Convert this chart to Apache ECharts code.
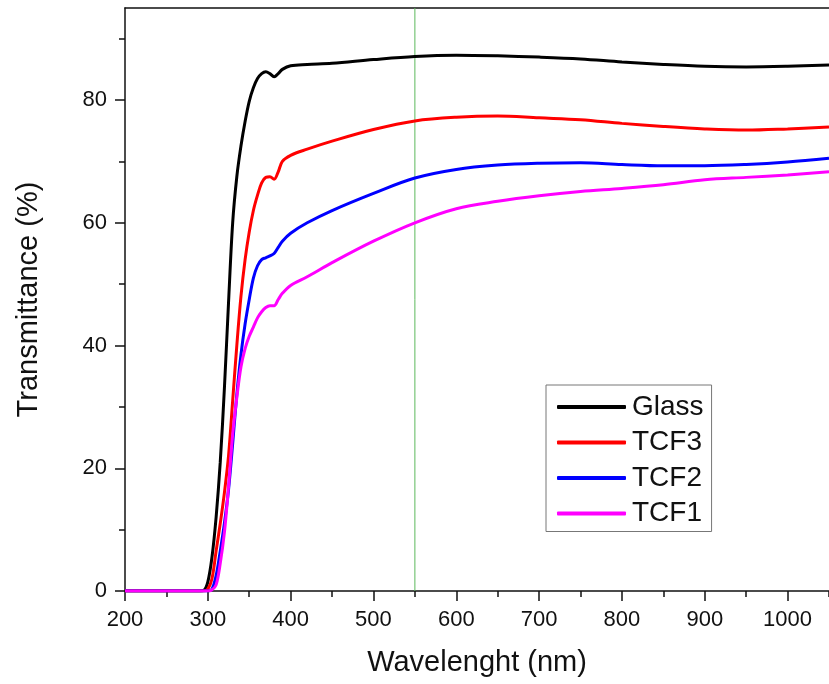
<!DOCTYPE html>
<html>
<head>
    <meta charset="UTF-8">
    <title>Transmittance</title>
    <script src="https://cdn.jsdelivr.net/npm/echarts@6/dist/echarts.min.js"></script>
    <style>html,body{margin:0;padding:0;background:#fff}#chart{width:829px;height:684px}</style>
</head>
<body>
<div id="chart"></div>
<script>
    // wavelengths (nm)
    var wavelength = [200, 290, 295, 300, 305, 310, 315, 320, 325, 330, 335, 340, 345, 350, 355, 360, 365, 370, 375, 380, 385, 390, 400, 420, 450, 500, 550, 600, 650, 700, 750, 800, 850, 900, 950, 1000, 1050];
    var glass = [0, 0, 0.1, 1.5, 5.5, 12, 21, 33, 47, 60, 67.5, 72.5, 76.5, 79.8, 82, 83.5, 84.3, 84.6, 84.3, 83.8, 84.3, 85, 85.6, 85.8, 86, 86.6, 87.1, 87.3, 87.2, 87, 86.7, 86.2, 85.8, 85.5, 85.4, 85.5, 85.7];
    var tcf3 = [0, 0, 0, 0.3, 2, 6.5, 11, 16, 22, 31, 40, 48, 54, 58.5, 62, 64.5, 66.5, 67.4, 67.5, 67.1, 68.3, 70, 71, 72, 73.3, 75.2, 76.6, 77.2, 77.4, 77.1, 76.8, 76.2, 75.7, 75.3, 75.1, 75.3, 75.6];
    var tcf2 = [0, 0, 0, 0, 0.3, 2.5, 6.5, 11, 16.5, 24, 32, 38.5, 43.5, 47.5, 51, 53, 54, 54.3, 54.6, 55, 56, 57, 58.3, 60, 62, 64.8, 67.3, 68.7, 69.4, 69.7, 69.8, 69.5, 69.3, 69.3, 69.5, 69.9, 70.5];
    var tcf1 = [0, 0, 0, 0, 0.2, 1, 4.5, 9.5, 17, 25.5, 31.5, 36.5, 39.5, 41.5, 43, 44.5, 45.5, 46.2, 46.5, 46.5, 47.5, 48.5, 49.8, 51.2, 53.5, 57, 60, 62.3, 63.5, 64.4, 65.1, 65.6, 66.2, 67, 67.4, 67.8, 68.3];

    // vertical marker at 550 nm
    var markerWavelength = 550;

    var xMajor = [200, 300, 400, 500, 600, 700, 800, 900, 1000];
    var xMinor = [250, 350, 450, 550, 650, 750, 850, 950, 1050];
    var yMajor = [0, 20, 40, 60, 80];
    var yMinor = [10, 30, 50, 70, 90];

    var xMin = 200, xMax = 1050, yMin = 0, yMax = 95;

    function pairs(ys) {
        var out = [];
        for (var i = 0; i < wavelength.length; i++) out.push([wavelength[i], ys[i]]);
        return out;
    }

    var font = 'Liberation Sans, Arial, sans-serif';
    var chart = echarts.init(document.getElementById('chart'));

    function line(name, color, ys) {
        return {
            name: name,
            type: 'line',
            xAxisIndex: 0,
            yAxisIndex: 0,
            data: pairs(ys),
            symbol: 'none',
            smooth: 0.35,
            lineStyle: {color: color, width: 3},
            itemStyle: {color: color},
            z: 3
        };
    }

    var series = [
        {
            name: 'marker',
            type: 'line',
            data: [[markerWavelength, yMin], [markerWavelength, yMax]],
            symbol: 'none',
            silent: true,
            lineStyle: {color: '#5cb85c', width: 1},
            z: 1
        },
        line('Glass', '#000000', glass),
        line('TCF3', '#ff0000', tcf3),
        line('TCF2', '#0000ff', tcf2),
        line('TCF1', '#ff00ff', tcf1)
    ];

    var option = {
        animation: false,
        backgroundColor: '#fff',
        grid: {left: 125, top: 8, right: 0, bottom: 93},
        legend: {
            orient: 'vertical',
            left: 546,
            top: 385,
            padding: [8, 8, 4, 11],
            borderColor: '#777',
            borderWidth: 1,
            itemWidth: 69,
            itemHeight: 4,
            itemGap: 7.5,
            icon: 'roundRect',
            textStyle: {fontFamily: font, fontSize: 28, color: '#111', lineHeight: 28, padding: [0, 0, 0, 1]},
            data: ['Glass', 'TCF3', 'TCF2', 'TCF1']
        },
        xAxis: [{
            type: 'value',
            min: xMin,
            max: xMax,
            name: 'Wavelenght (nm)',
            nameLocation: 'middle',
            nameGap: 57,
            nameTextStyle: {fontFamily: font, fontSize: 29, color: '#111'},
            axisLine: {lineStyle: {color: '#111', width: 1.5}},
            axisTick: {customValues: xMajor, length: 10, lineStyle: {color: '#111', width: 1.5}},
            axisLabel: {customValues: xMajor, margin: 18, fontFamily: font, fontSize: 22, color: '#111',
                formatter: function (v) { return String(v); }},
            splitLine: {show: false}
        }, {
            type: 'value',
            min: xMin,
            max: xMax,
            position: 'bottom',
            axisLine: {show: false},
            axisTick: {customValues: xMinor, length: 6, lineStyle: {color: '#111', width: 1.5}},
            axisLabel: {show: false},
            splitLine: {show: false}
        }, {
            type: 'value',
            min: xMin,
            max: xMax,
            position: 'top',
            axisLine: {lineStyle: {color: '#111', width: 1.5}},
            axisTick: {show: false},
            axisLabel: {show: false},
            splitLine: {show: false}
        }],
        yAxis: [{
            type: 'value',
            min: yMin,
            max: yMax,
            name: 'Transmittance (%)',
            nameLocation: 'middle',
            nameGap: 82,
            nameTextStyle: {fontFamily: font, fontSize: 29, color: '#111'},
            axisLine: {show: true, lineStyle: {color: '#111', width: 1.5}},
            axisTick: {show: true, customValues: yMajor, length: 10, lineStyle: {color: '#111', width: 1.5}},
            axisLabel: {customValues: yMajor, margin: 18, fontFamily: font, fontSize: 22, color: '#111'},
            splitLine: {show: false}
        }, {
            type: 'value',
            min: yMin,
            max: yMax,
            position: 'left',
            axisLine: {show: false},
            axisTick: {show: true, customValues: yMinor, length: 6, lineStyle: {color: '#111', width: 1.5}},
            axisLabel: {show: false},
            splitLine: {show: false}
        }],
        series: series
    };
    chart.setOption(option);
</script>
</body>
</html>
